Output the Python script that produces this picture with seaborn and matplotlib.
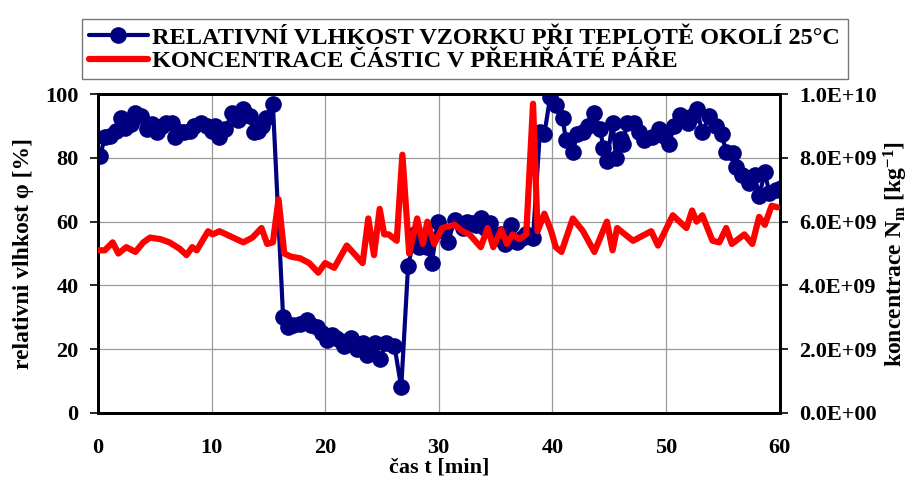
import pandas as pd
import matplotlib.pyplot as plt
import seaborn as sns

# relative humidity of sample [%]
t_rh = [0.2, 0.6, 1.1, 1.6, 2.0, 2.4, 2.9, 3.3, 3.8, 4.3, 4.8, 5.2, 5.6, 6.0, 6.5,
        6.8, 7.3, 7.6, 8.1, 8.5, 9.1, 9.6, 10.0, 10.3, 10.7, 11.2, 11.8, 12.3, 12.8,
        13.4, 13.7, 14.1, 14.4, 14.8, 15.4, 16.3, 16.7, 17.2, 17.8, 18.4, 18.8, 19.3,
        19.7, 20.2, 20.6, 21.0, 21.4, 21.7, 22.3, 22.8, 23.3, 23.7, 24.0, 24.4, 24.8,
        25.4, 26.1, 26.7, 27.3, 27.9, 28.3, 28.6, 29.0, 29.4, 29.9, 30.4, 30.8, 31.4,
        32.1, 32.5, 32.9, 33.3, 33.7, 34.1, 34.5, 35.1, 35.5, 35.8, 36.4, 36.9, 37.3,
        37.7, 38.3, 38.9, 39.3, 39.8, 40.3, 40.9, 41.2, 41.8, 42.2, 42.7, 43.1, 43.7,
        44.2, 44.5, 44.8, 45.3, 45.6, 46.0, 46.2, 46.6, 47.2, 47.6, 48.1, 48.8, 49.4,
        49.8, 50.3, 50.7, 51.2, 51.9, 52.3, 52.7, 53.2, 53.8, 54.4, 54.9, 55.3, 55.9,
        56.2, 56.7, 57.3, 57.8, 58.2, 58.7, 59.1, 59.7, 60.1]
rh = [80.5, 86.5, 87, 88.5, 92.5, 89.5, 90.5, 94, 93, 89, 90.5, 88, 90, 91, 91,
      86.5, 88, 88, 88.5, 90, 91, 90, 88.5, 90, 86.5, 89, 94, 92, 95.5,
      93, 88, 88.5, 90, 92.5, 97, 30, 27, 27.5, 28, 29, 27.5, 27,
      25, 23, 24.5, 23.5, 22.5, 21, 23.5, 20, 22, 18, 21, 22, 17,
      22, 21, 8, 46, 56, 52, 55, 52, 47, 60, 57, 53.5, 60.5,
      58, 60, 59.5, 59, 61, 58, 59.5, 55, 56, 53, 59, 53.5, 55,
      56, 55, 88, 87.5, 99, 96.5, 92.5, 85.5, 82, 87.5, 88, 90, 94,
      89, 83, 79, 91, 80, 86, 84.5, 91, 91, 88, 85.5, 86.5, 89,
      87, 84.5, 90, 93.5, 91, 93, 95.5, 88, 93, 90, 87.5, 82, 81.5,
      77, 74.5, 72, 74.5, 68, 75.5, 69, 70, 70.5]

# particle concentration in superheated steam [1e9 kg^-1]
t_nm = [0.0, 0.6, 1.3, 1.8, 2.5, 3.3, 4.0, 4.6, 5.5, 6.3, 7.2, 7.8, 8.3, 8.7, 9.7,
        10.1, 10.7, 11.9, 12.8, 13.6, 14.4, 14.9, 15.4, 15.9, 16.4, 17.0, 17.8, 18.6,
        19.4, 20.0, 20.8, 21.9, 23.3, 23.8, 24.3, 24.8, 25.2, 25.6, 26.3, 26.8, 27.4,
        28.1, 28.6, 29.0, 29.6, 30.3, 31.4, 32.1, 32.7, 33.7, 34.3, 34.8, 35.5, 36.0,
        36.5, 37.1, 37.7, 38.3, 38.7, 39.3, 39.9, 40.3, 40.8, 41.8, 42.7, 43.7, 44.8,
        45.3, 45.7, 47.1, 48.7, 49.3, 50.6, 51.8, 52.3, 52.7, 53.2, 54.1, 54.7, 55.3,
        55.8, 56.9, 57.6, 58.2, 58.7, 59.3, 59.8]
nm = [5.1, 5.1, 5.35, 5.0, 5.2, 5.05, 5.35, 5.5, 5.45, 5.35, 5.15, 4.95, 5.2, 5.1, 5.7,
      5.6, 5.7, 5.5, 5.35, 5.5, 5.8, 5.3, 5.35, 6.7, 5.0, 4.9, 4.85, 4.7,
      4.4, 4.7, 4.55, 5.25, 4.7, 6.1, 4.95, 6.4, 5.6, 5.6, 5.4, 8.1, 5.0,
      6.1, 5.3, 6.0, 5.3, 5.8, 5.9, 5.7, 5.6, 5.2, 5.8, 5.2, 5.75, 5.3,
      5.6, 5.45, 5.6, 9.7, 5.7, 6.25, 5.7, 5.2, 5.05, 6.1, 5.7, 5.05, 6.0,
      5.1, 5.8, 5.4, 5.7, 5.25, 6.2, 5.8, 6.35, 6.0, 6.2, 5.4, 5.35, 5.8,
      5.3, 5.6, 5.3, 6.15, 5.9, 6.5, 6.45]

label_rh = "RELATIVNÍ VLHKOST VZORKU PŘI TEPLOTĚ OKOLÍ 25°C"
label_nm = "KONCENTRACE ČÁSTIC V PŘEHŘÁTÉ PÁŘE"

x_ticks = [0, 10, 20, 30, 40, 50, 60]
y_ticks = [0, 20, 40, 60, 80, 100]
y2_ticks = [0, 2e9, 4e9, 6e9, 8e9, 1e10]
y2_labels = ["0.0E+00", "2.0E+09", "4.0E+09", "6.0E+09", "8.0E+09", "1.0E+10"]

df_rh = pd.DataFrame({"t": t_rh, "rh": rh})
df_nm = pd.DataFrame({"t": t_nm, "nm": [v * 1e9 for v in nm]})

sns.set_style("white")
plt.rcParams["font.family"] = ["Liberation Serif", "DejaVu Serif"]
plt.rcParams["font.weight"] = "bold"
plt.rcParams["text.color"] = "black"
plt.rcParams["axes.labelcolor"] = "black"
plt.rcParams["mathtext.fontset"] = "custom"
plt.rcParams["mathtext.rm"] = "Liberation Serif:bold"
plt.rcParams["mathtext.it"] = "Liberation Serif:bold"

fig = plt.figure(figsize=(9.15, 4.88), dpi=100)
ax = fig.add_axes([0.107, 0.154, 0.745, 0.653])
ax2 = ax.twinx()

sns.lineplot(data=df_rh, x="t", y="rh", ax=ax, color="#000080", lw=3,
             marker="o", markersize=12, markeredgewidth=0, label=label_rh,
             legend=False, zorder=3)
sns.lineplot(data=df_nm, x="t", y="nm", ax=ax2, color="#ff0000", lw=4.5,
             label=label_nm, legend=False, zorder=4)

ax.set_xlim(0, 60)
ax.set_ylim(0, 100)
ax2.set_ylim(0, 1e10)
ax.set_xticks(x_ticks)
ax.set_yticks(y_ticks)
ax2.set_yticks(y2_ticks)
ax2.set_yticklabels(y2_labels)

ax.grid(True, color="#999999", lw=0.9)
ax.set_axisbelow(True)
for a in (ax, ax2):
    for s in a.spines.values():
        s.set_color("black")
        s.set_linewidth(2)
    a.tick_params(direction="out", length=6, width=1.2, labelsize=16, colors="black")
ax.tick_params(axis="x", pad=12)
ax.tick_params(axis="y", pad=8)
ax2.tick_params(axis="y", pad=8)

ax.set_xlabel("čas t [min]", fontsize=16, fontweight="bold", labelpad=0)
ax.set_ylabel("relativni vlhkost φ [%]", fontsize=17, fontweight="bold", labelpad=8)
ax2.set_ylabel("koncentrace N$_\\mathrm{m}$ [kg$^{-1}$]", fontsize=17,
               fontweight="bold", labelpad=4)

h1, l1 = ax.get_legend_handles_labels()
h2, l2 = ax2.get_legend_handles_labels()
fig.legend(h1 + h2, l1 + l2, loc="upper center", bbox_to_anchor=(0.508, 0.985),
           frameon=True, fancybox=False, edgecolor="#555555",
           handlelength=2.4, handletextpad=0.2, borderpad=0.3, labelspacing=0.05,
           prop={"weight": "bold", "size": 17.5})

fig.savefig("out.png", dpi=100)
